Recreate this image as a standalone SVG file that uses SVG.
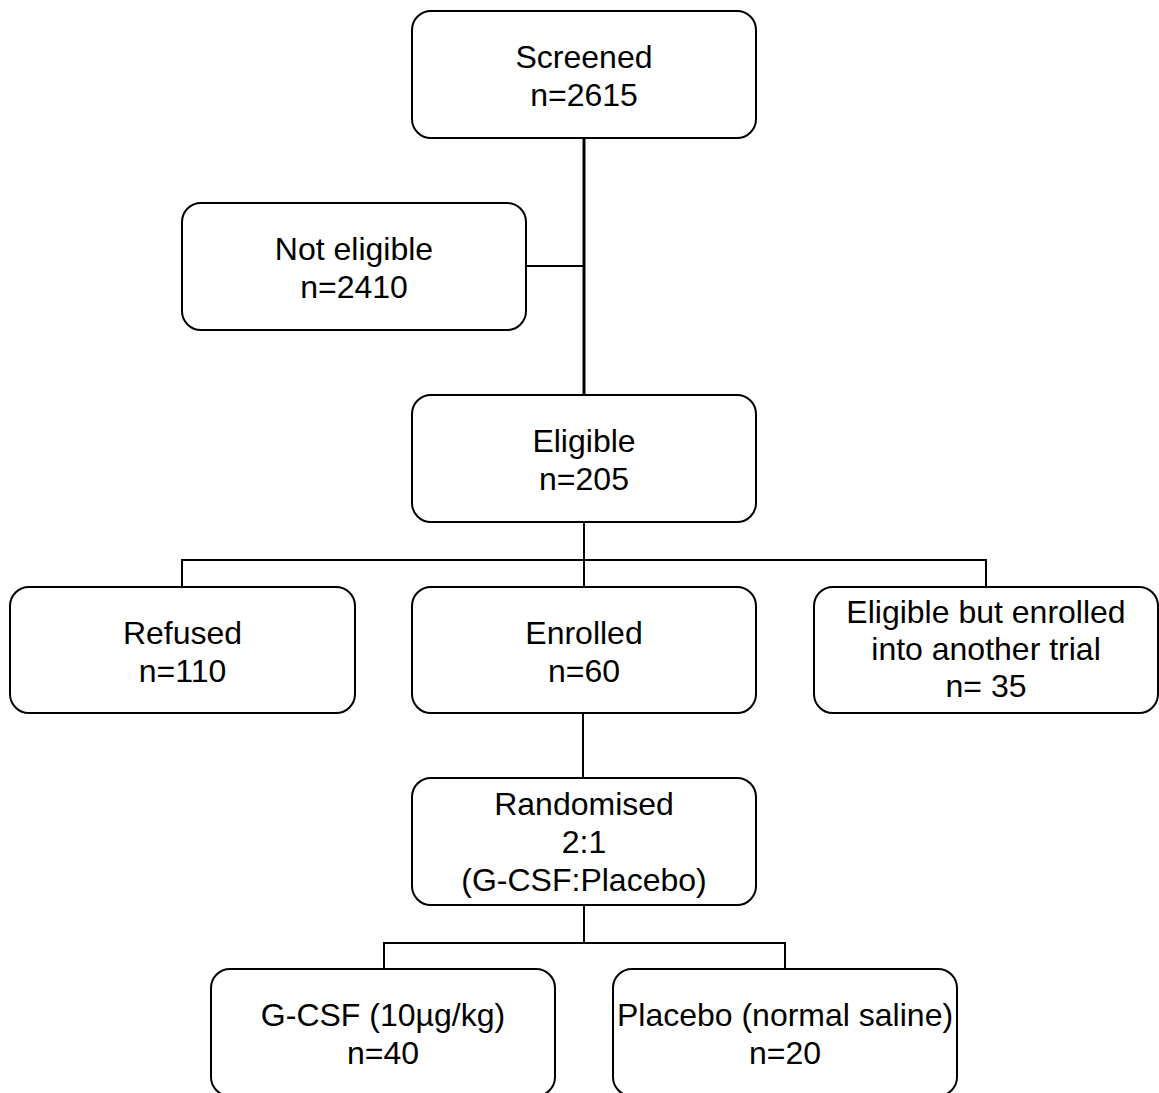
<svg xmlns="http://www.w3.org/2000/svg" width="1159" height="1093" viewBox="0 0 1159 1093">
<style>
.box{fill:#fff;stroke:#000;stroke-width:2}
.t{font-family:"Liberation Sans",Arial,sans-serif;font-size:32px;fill:#000;text-anchor:middle}
.c{fill:none;stroke:#000;stroke-width:2}
</style>
<rect width="1159" height="1093" fill="#fff"/>
<g id="connectors">
<line class="c" x1="584" y1="138" x2="584" y2="395" style="stroke-width:3"/>
<line class="c" x1="526" y1="266" x2="584" y2="266"/>
<path class="c" d="M584 522 V560 M182 587 V560 H986 V587 M584 560 V587"/>
<line class="c" x1="583" y1="713" x2="583" y2="778"/>
<path class="c" d="M584 905 V943 M384 969 V943 H785 V969"/>
</g>
<g id="screened"><rect class="box" x="412" y="11" width="344" height="127" rx="19"/>
<text class="t" x="584" y="68">Screened</text><text class="t" x="584" y="106">n=2615</text></g>
<g id="not-eligible"><rect class="box" x="182" y="203" width="344" height="127" rx="19"/>
<text class="t" x="354" y="260">Not eligible</text><text class="t" x="354" y="298">n=2410</text></g>
<g id="eligible"><rect class="box" x="412" y="395" width="344" height="127" rx="19"/>
<text class="t" x="584" y="452">Eligible</text><text class="t" x="584" y="490">n=205</text></g>
<g id="refused"><rect class="box" x="10" y="587" width="345" height="126" rx="19"/>
<text class="t" x="182.5" y="644">Refused</text><text class="t" x="182.5" y="682">n=110</text></g>
<g id="enrolled"><rect class="box" x="412" y="587" width="344" height="126" rx="19"/>
<text class="t" x="584" y="644">Enrolled</text><text class="t" x="584" y="682">n=60</text></g>
<g id="other-trial"><rect class="box" x="814" y="587" width="344" height="126" rx="19"/>
<text class="t" x="986" y="623">Eligible but enrolled</text><text class="t" x="986" y="660">into another trial</text><text class="t" x="986" y="697">n= 35</text></g>
<g id="randomised"><rect class="box" x="412" y="778" width="344" height="127" rx="19"/>
<text class="t" x="584" y="815">Randomised</text><text class="t" x="584" y="853">2:1</text><text class="t" x="584" y="891">(G-CSF:Placebo)</text></g>
<g id="gcsf"><rect class="box" x="211" y="969" width="344" height="127" rx="19"/>
<text class="t" x="383" y="1026">G-CSF (10µg/kg)</text><text class="t" x="383" y="1064">n=40</text></g>
<g id="placebo"><rect class="box" x="613" y="969" width="344" height="127" rx="19"/>
<text class="t" x="785" y="1026">Placebo (normal saline)</text><text class="t" x="785" y="1064">n=20</text></g>
</svg>
